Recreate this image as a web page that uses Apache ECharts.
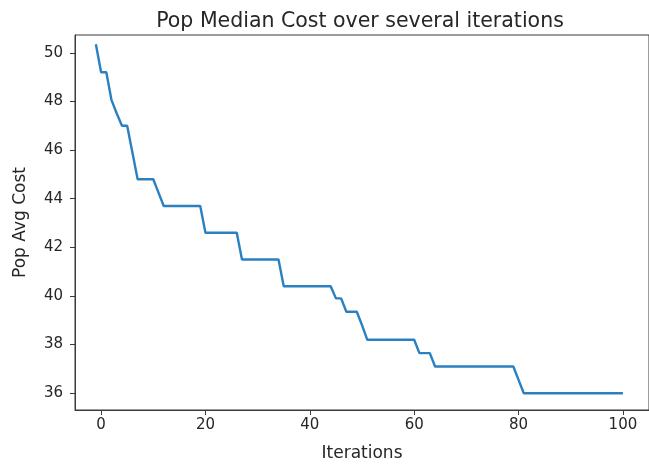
<!DOCTYPE html>
<html>
<head>
<meta charset="utf-8">
<script src="https://cdn.jsdelivr.net/npm/echarts@6/dist/echarts.min.js"></script>
<style>
html,body{margin:0;padding:0;background:#fff;}
#chart{width:649px;height:472px;}
</style>
</head>
<body>
<div id="chart"></div>
<script>
const iterations = [-1,0,1,2,3,4,5,6,7,8,9,10,11,12,13,14,15,16,17,18,19,20,21,22,23,24,25,26,27,28,29,30,31,32,33,34,35,36,37,38,39,40,41,42,43,44,45,46,47,48,49,50,51,52,53,54,55,56,57,58,59,60,61,62,63,64,65,66,67,68,69,70,71,72,73,74,75,76,77,78,79,80,81,82,83,84,85,86,87,88,89,90,91,92,93,94,95,96,97,98,99,100];
const popCost = [50.35,49.2,49.2,48.05,47.5,47.0,47.0,45.9,44.8,44.8,44.8,44.8,44.25,43.7,43.7,43.7,43.7,43.7,43.7,43.7,43.7,42.6,42.6,42.6,42.6,42.6,42.6,42.6,41.5,41.5,41.5,41.5,41.5,41.5,41.5,41.5,40.4,40.4,40.4,40.4,40.4,40.4,40.4,40.4,40.4,40.4,39.9,39.9,39.35,39.35,39.35,38.8,38.2,38.2,38.2,38.2,38.2,38.2,38.2,38.2,38.2,38.2,37.65,37.65,37.65,37.1,37.1,37.1,37.1,37.1,37.1,37.1,37.1,37.1,37.1,37.1,37.1,37.1,37.1,37.1,37.1,36.55,36.0,36.0,36.0,36.0,36.0,36.0,36.0,36.0,36.0,36.0,36.0,36.0,36.0,36.0,36.0,36.0,36.0,36.0,36.0,36.0];
const xTicks = [0,20,40,60,80,100];
const yTicks = [36,38,40,42,44,46,48,50];
const titleText = 'Pop Median Cost over several iterations';
const xName = 'Iterations';
const yName = 'Pop Avg Cost';

const chart = echarts.init(document.getElementById('chart'), null, {renderer:'canvas'});
const fontFam = '"DejaVu Sans", sans-serif';
const txt = '#262626';
chart.setOption({
  animation: false,
  backgroundColor: '#fff',
  title: {
    text: titleText, left: 355, top: 6, textAlign: 'center',
    textStyle: {fontFamily: fontFam, fontSize: 20.5, fontWeight: 'normal', color: txt}
  },
  grid: {left: 75, right: 0, top: 35, bottom: 62, show: true, borderColor: '#3a3a3a', borderWidth: 1, backgroundColor: '#fff'},
  xAxis: {
    type: 'value', min: -5, max: 105,
    name: xName, nameLocation: 'middle', nameGap: 35,
    nameTextStyle: {fontFamily: fontFam, fontSize: 17, color: txt},
    axisLine: {show: true, onZero: false, lineStyle: {color: '#3a3a3a', width: 1}},
    axisTick: {show: true, length: 5, customValues: xTicks, lineStyle: {color: '#3a3a3a'}},
    axisLabel: {customValues: xTicks, fontFamily: fontFam, fontSize: 15, color: txt, margin: 8},
    splitLine: {show: false}
  },
  yAxis: {
    type: 'value', min: 35.31, max: 50.73,
    name: yName, nameLocation: 'middle', nameGap: 46, nameRotate: 90,
    nameTextStyle: {fontFamily: fontFam, fontSize: 17, color: txt},
    axisLine: {show: true, onZero: false, lineStyle: {color: '#3a3a3a', width: 1}},
    axisTick: {show: true, length: 5, customValues: yTicks, lineStyle: {color: '#3a3a3a'}},
    axisLabel: {customValues: yTicks, fontFamily: fontFam, fontSize: 15, color: txt, margin: 12},
    splitLine: {show: false}
  },
  series: [{
    type: 'line',
    data: iterations.map((x, i) => [x, popCost[i]]),
    showSymbol: false, symbol: 'none',
    lineStyle: {color: '#2a80c0', width: 2.4},
    clip: false
  }]
});
</script>
</body>
</html>
